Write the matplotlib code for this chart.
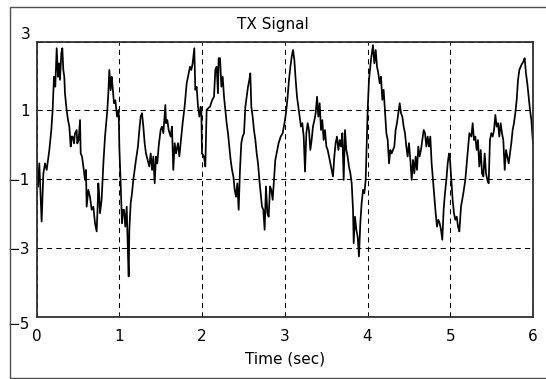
import matplotlib.pyplot as plt
from matplotlib.patches import Rectangle

# TX signal samples, time in seconds
t_sec = [
    0.000, 0.018, 0.034, 0.062, 0.083, 0.103, 0.123, 0.155, 0.179, 0.195,
    0.211, 0.227, 0.244, 0.260, 0.272, 0.284, 0.300, 0.312, 0.324, 0.336,
    0.344, 0.364, 0.381, 0.397, 0.413, 0.425, 0.437, 0.453, 0.465, 0.485,
    0.493, 0.509, 0.526, 0.534, 0.550, 0.566, 0.586, 0.598, 0.606, 0.626,
    0.646, 0.667, 0.687, 0.707, 0.727, 0.739, 0.747, 0.759, 0.767, 0.787,
    0.808, 0.828, 0.856, 0.868, 0.880, 0.896, 0.908, 0.920, 0.936, 0.953,
    0.969, 0.977, 0.993, 1.001, 1.017, 1.033, 1.045, 1.057, 1.073, 1.090,
    1.106, 1.114,
    1.122, 1.138, 1.154, 1.170, 1.186, 1.202, 1.226, 1.243, 1.259, 1.275,
    1.291, 1.307, 1.323, 1.343, 1.363, 1.380, 1.396, 1.412, 1.428, 1.444,
    1.460, 1.476, 1.500, 1.516, 1.533, 1.557, 1.565, 1.581, 1.597, 1.621,
    1.637, 1.653, 1.670, 1.686, 1.710, 1.726, 1.742, 1.766, 1.790, 1.815,
    1.839, 1.855, 1.871, 1.887, 1.907, 1.919, 1.935, 1.952, 1.968, 1.984,
    1.992, 2.000, 2.024, 2.040, 2.056, 2.073, 2.097, 2.121, 2.145, 2.161,
    2.177, 2.193, 2.201, 2.218, 2.234, 2.250, 2.266, 2.282, 2.298, 2.314,
    2.330, 2.346, 2.363, 2.379, 2.395, 2.411, 2.427, 2.443, 2.459, 2.475,
    2.491, 2.508, 2.524, 2.540, 2.556, 2.572, 2.584, 2.596, 2.612, 2.628,
    2.645, 2.661, 2.677, 2.693, 2.709, 2.725, 2.741, 2.757, 2.773, 2.790,
    2.806, 2.822, 2.838, 2.854, 2.870, 2.886, 2.910, 2.926, 2.951, 2.975,
    3.003, 3.019, 3.035, 3.051, 3.068, 3.084, 3.100, 3.116, 3.132, 3.148,
    3.164, 3.180, 3.196, 3.212, 3.229, 3.245, 3.261, 3.277, 3.293, 3.309,
    3.325, 3.341, 3.358, 3.374, 3.390, 3.406, 3.422, 3.438, 3.454, 3.470,
    3.486, 3.503, 3.519, 3.543, 3.559, 3.583, 3.599, 3.615, 3.631, 3.648,
    3.664, 3.680, 3.696, 3.712, 3.728, 3.744, 3.760, 3.776, 3.793, 3.809,
    3.825, 3.833, 3.849, 3.865, 3.881, 3.897, 3.913, 3.929, 3.946,
    3.962, 3.978, 4.002, 4.018, 4.042, 4.066, 4.083, 4.099, 4.115, 4.131,
    4.147, 4.163, 4.179, 4.195, 4.211, 4.228, 4.244, 4.260, 4.276, 4.292,
    4.308, 4.324, 4.340, 4.356, 4.373, 4.389, 4.405, 4.421, 4.437, 4.453,
    4.469, 4.485, 4.501, 4.518, 4.534, 4.550, 4.566, 4.582, 4.598, 4.614,
    4.630, 4.646, 4.663, 4.679, 4.695, 4.711, 4.727, 4.743, 4.759, 4.775,
    4.791, 4.808, 4.824, 4.840, 4.856, 4.872, 4.888, 4.904, 4.920, 4.936,
    4.953, 4.969, 4.985,
    4.997, 5.013, 5.029, 5.045, 5.061, 5.078, 5.094, 5.110, 5.130, 5.158,
    5.182, 5.206, 5.231, 5.255, 5.271, 5.287, 5.303, 5.319, 5.335, 5.351,
    5.368, 5.384, 5.400, 5.416, 5.432, 5.448, 5.464, 5.480, 5.496, 5.513,
    5.529, 5.545, 5.561, 5.577, 5.593, 5.609, 5.625, 5.641, 5.658, 5.674,
    5.690, 5.706, 5.722, 5.738, 5.754, 5.770, 5.786, 5.803, 5.819, 5.835,
    5.859, 5.883, 5.899, 5.915, 5.931, 5.948, 5.964, 5.980, 6.000,
]

tx_signal = [
    -0.30, -1.22, -0.54, -2.23, -0.83, -0.54, -0.73, -0.15, 0.43, 1.01,
    1.98, 1.69, 2.81, 1.98, 2.37, 1.89, 2.66, 2.81, 2.18, 1.98,
    1.50, 1.01, 0.72, 0.53, -0.05, 0.24, 0.24, 0.04, 0.33, 0.43,
    0.04, 0.14, 0.72, -0.25, -0.34, -0.63, -1.02, -0.73, -1.80, -1.31,
    -1.51, -1.89, -1.80, -2.28, -2.52, -1.80, -1.12, -1.51, -1.99, -1.60,
    -0.54, 0.24, 1.01, 1.50, 2.18, 1.59, 1.98, 1.69, 1.21, 1.30,
    0.92, 0.82, 1.01, -0.05, -1.12, -2.28, -1.89, -1.89, -2.38, -1.80,
    -3.25, -3.83,
    -2.47, -1.70, -1.41, -1.02, -0.73, -0.44, -0.05, 0.43, 0.82, 0.92,
    0.53, 0.05, -0.25, -0.44, -0.63, -0.25, -0.73, -0.34, -1.12, -0.34,
    -0.54, -0.05, 0.43, 0.53, 0.34, 1.16, 0.63, 0.72, 0.43, 0.24,
    0.53, -0.73, 0.05, -0.25, 0.05, -0.34, 0.05, 0.63, 1.11, 1.79,
    2.08, 2.27, 2.18, 2.37, 2.81, 1.60, 1.69, 1.11, 0.82, 1.11,
    0.97, -0.25, -0.34, -0.63, 1.01, 1.06, 1.11, 1.29, 1.40, 2.18,
    2.27, 1.50, 2.52, 2.52, 1.69, 1.98, 1.40, 1.01, 0.63, 0.34,
    -0.05, -0.44, -0.73, -0.92, -1.31, -1.51, -1.12, -1.89, -0.73, 0.05,
    0.24, 0.34, 1.11, 1.40, 1.69, 1.89, 2.08, 1.11, 0.82, 0.43,
    0.14, -0.25, -0.54, -1.02, -1.41, -1.80, -1.89, -2.47, -1.21, -1.99,
    -2.09, -1.21, -1.31, -1.60, -1.02, -0.44, -0.15, 0.05, 0.24, 0.34,
    0.72, 1.01, 1.40, 1.89, 2.27, 2.56, 2.76, 2.47, 1.89, 1.40,
    1.11, 0.82, 0.53, 0.63, 0.24, -0.78, 0.34, 0.63, 0.43, -0.15,
    0.14, 0.53, 0.72, 0.92, 1.40, 0.82, 1.21, 0.43, 0.72, 0.14,
    0.43, -0.05, -0.15, -0.44, -0.63, -0.92, -0.34, 0.05, 0.24, -0.15,
    0.14, -0.05, 0.34, -1.02, 0.43, -0.15, -0.34, -0.63, -0.83, -1.12,
    -1.89, -2.86, -2.09, -2.47, -2.67, -3.25, -2.28, -1.70, -1.31,
    -1.41, -1.02, 1.01, 1.89, 2.47, 2.90, 2.37, 2.76, 2.27, 2.08,
    1.79, 1.98, 1.31, 1.60, 1.01, 0.34, 0.14, -0.54, -0.15, -0.25,
    -0.15, -0.05, 0.43, 0.63, 0.92, 1.21, 0.92, 0.82, 0.53, 0.34,
    -0.05, -0.34, 0.05, -0.44, -1.02, -0.44, -0.83, -0.34, -0.73, -0.05,
    -0.34, -0.15, 0.14, 0.43, 0.34, -0.05, 0.24, -0.05, 0.24, -0.54,
    -1.02, -1.51, -1.99, -2.38, -2.18, -2.28, -2.47, -2.76, -1.89, -1.41,
    -1.02, -0.54, -0.25,
    -0.44, -1.02, -1.60, -1.99, -2.18, -2.09, -2.38, -2.52, -1.80, -1.41,
    -1.02, -0.34, 0.34, 0.24, 0.63, 0.14, 0.24, -0.15, 0.14, -0.63,
    -0.15, -0.83, -0.92, -0.25, -0.83, -1.02, -1.12, 0.14, 0.34, 0.24,
    0.43, 0.87, 0.53, 0.63, 0.24, 0.63, 0.34, 0.14, -0.73, -0.15,
    -0.34, -0.54, -0.25, 0.05, 0.43, 0.63, 0.92, 1.31, 1.89, 2.18,
    2.32, 2.42, 2.52, 2.08, 1.79, 1.40, 1.01, 0.72, 0.04,
]

x_ticks = [0, 1, 2, 3, 4, 5, 6]
y_ticks = [-5, -3, -1, 1, 3]

W, H = 546, 379
fig = plt.figure(figsize=(W / 100, H / 100), dpi=100)
fig.patch.set_facecolor('white')

# outer border of the figure window
fig.add_artist(Rectangle((10 / W, 1.5 / H), 545 / W, 370.5 / H,
                         transform=fig.transFigure, fill=False,
                         edgecolor='#505050', linewidth=1.0, clip_on=False))

ax = fig.add_axes([36.5 / W, 62.3 / H, 496.5 / W, 275 / H])
ax.plot(t_sec, tx_signal, color='black', linewidth=1.25)

ax.set_xlim(0, 6)
ax.set_ylim(-5, 3)
ax.set_xticks(x_ticks)
ax.set_yticks(y_ticks)
ax.grid(True, color='black', linestyle=(0, (5, 4)), linewidth=0.75)
ax.tick_params(length=0, labelsize=11, colors='black')
ax.tick_params(axis='y', pad=4.5)
ax.tick_params(axis='x', pad=9)
for s in ax.spines.values():
    s.set_linewidth(1.3)
    s.set_color('#303030')

# end labels sit just outside the axis limits
yt = ax.yaxis.get_major_ticks()
yt[0].label1.set_va('top')
yt[-1].label1.set_va('bottom')

ax.set_xlabel('Time (sec)', fontsize=11, labelpad=5)
fig.text(0.5, 1 - 24 / H, 'TX Signal', ha='center', va='center', fontsize=11)

fig.savefig('out.png', dpi=100)
